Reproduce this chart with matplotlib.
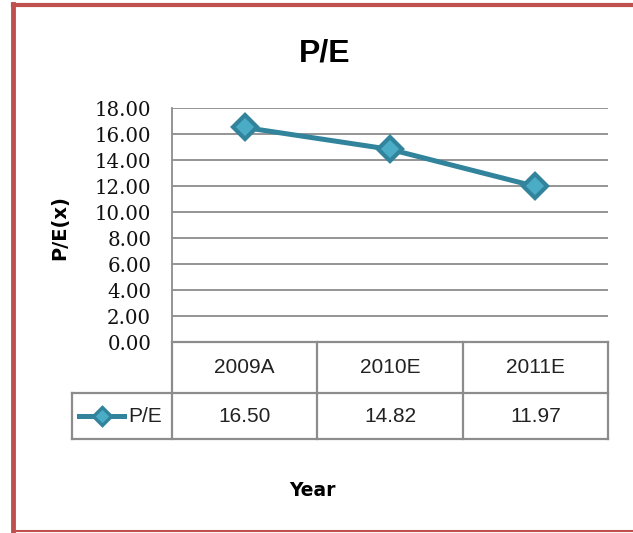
import matplotlib
matplotlib.use("Agg")
import matplotlib.pyplot as plt
from matplotlib.lines import Line2D
from matplotlib import font_manager

categories = ["2009A", "2010E", "2011E"]
pe_values = [16.50, 14.82, 11.97]
value_labels = ["16.50", "14.82", "11.97"]
yticks = [0, 2, 4, 6, 8, 10, 12, 14, 16, 18]
series_name = "P/E"

names = {f.name for f in font_manager.fontManager.ttflist}
narrow = "Liberation Sans Narrow" if "Liberation Sans Narrow" in names else "Liberation Sans"

W, H = 633, 533
fig = plt.figure(figsize=(W / 100, H / 100), dpi=100)
fig.patch.set_facecolor("white")

def fx(px):
    return px / W

def fy(py):
    return 1 - py / H

# plot area in pixel coords
L, R, T, B = 172, 608, 108, 342
ax = fig.add_axes([fx(L), fy(B), fx(R) - fx(L), fy(T) - fy(B)])
line_c = "#31849B"
fill_c = "#4BACC6"
x = list(range(len(categories)))
ax.plot(x, pe_values, color=line_c, lw=3.6, marker="D", ms=12.5,
        markerfacecolor=fill_c, markeredgecolor=line_c, markeredgewidth=3,
        solid_capstyle="round", zorder=3, clip_on=False)
ax.set_xlim(-0.5, len(categories) - 0.5)
ax.set_ylim(0, 18)
ax.set_yticks(yticks)
ax.set_yticklabels([f"{v:.2f}" for v in yticks], family="DejaVu Serif", fontsize=14.2,
                   color="#111111")
ax.tick_params(axis="y", length=0, pad=15)
ax.tick_params(axis="x", length=0, labelbottom=False)
ax.grid(axis="y", color="#8C8C8C", lw=1.3)
ax.set_axisbelow(True)
for s in ["top", "right", "bottom"]:
    ax.spines[s].set_visible(False)
ax.spines["left"].set_color("#8C8C8C")
ax.spines["left"].set_linewidth(1.3)

# data table below
gc = "#8C8C8C"
r1, r2, r3 = 342, 393, 439
legL = 72
colw = (R - L) / len(categories)

def hline(y, x0, x1):
    fig.add_artist(Line2D([fx(x0), fx(x1)], [fy(y), fy(y)], color=gc, lw=1.6))

def vline(xp, y0, y1):
    fig.add_artist(Line2D([fx(xp), fx(xp)], [fy(y0), fy(y1)], color=gc, lw=1.6))

hline(r1, L, R)
hline(r2, legL, R)
hline(r3, legL, R)
vline(L, r1, r3)
vline(legL, r2, r3)
for i in range(1, len(categories) + 1):
    vline(L + colw * i, r1, r3)

for i, (c, v) in enumerate(zip(categories, value_labels)):
    cx = L + colw * (i + 0.5)
    fig.text(fx(cx), fy((r1 + r2) / 2), c, ha="center", va="center",
             family=narrow, fontsize=15, color="#222222")
    fig.text(fx(cx), fy((r2 + r3) / 2), v, ha="center", va="center",
             family=narrow, fontsize=15, color="#222222")

# legend key
ly = (r2 + r3) / 2
fig.add_artist(Line2D([fx(79), fx(124)], [fy(ly), fy(ly)], color=line_c, lw=3.6))
fig.add_artist(Line2D([fx(101.5)], [fy(ly)], marker="D", ms=9.5, color=line_c,
                      markerfacecolor=fill_c, markeredgecolor=line_c, markeredgewidth=2.4))
fig.text(fx(128), fy(ly), series_name, ha="left", va="center",
         family=narrow, fontsize=15, color="#222222")

# titles
fig.text(fx(325), fy(53), "P/E", ha="center", va="center",
         family=narrow, fontweight="bold", fontsize=23)
fig.text(fx(60), fy(228), "P/E(x)", ha="center", va="center", rotation=90,
         family="DejaVu Sans", fontweight="bold", fontsize=14)
fig.text(fx(312), fy(491), "Year", ha="center", va="center",
         family="DejaVu Sans", fontweight="bold", fontsize=13.5)

# red frame
red = "#C0504D"
fig.add_artist(Line2D([fx(13), fx(W + 5)], [fy(5), fy(5)], color=red, lw=3))
fig.add_artist(Line2D([fx(13), fx(13)], [fy(4), fy(531)], color=red, lw=3.5))
fig.add_artist(Line2D([fx(13), fx(W + 5)], [fy(530.5), fy(530.5)], color=red, lw=1.5))

fig.savefig("out.png", dpi=100, facecolor="white")
